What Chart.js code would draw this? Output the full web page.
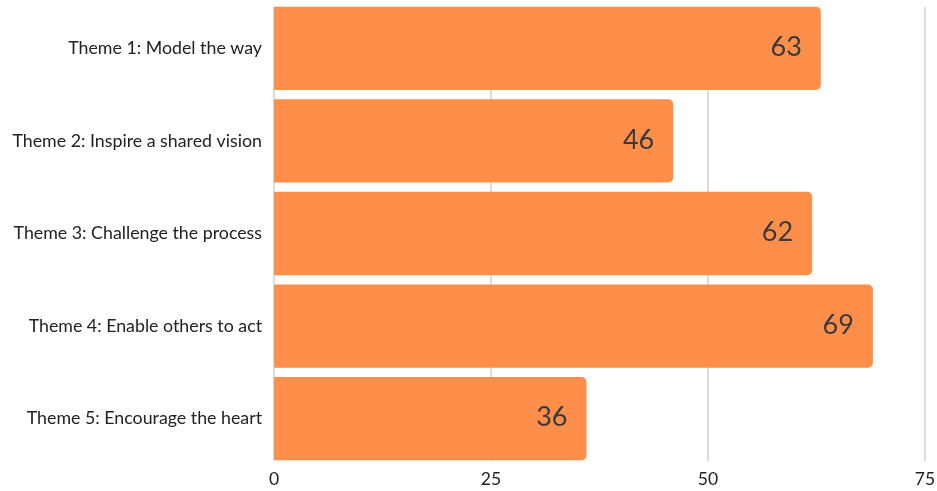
<!DOCTYPE html>
<html>
<head>
<meta charset="utf-8">
<script src="https://cdn.jsdelivr.net/npm/chart.js@4/dist/chart.umd.min.js"></script>
<style>
  html, body { margin: 0; padding: 0; background: #fff; }
  #wrap { width: 937px; height: 491px; }
</style>
</head>
<body>
<div id="wrap"><canvas id="themeChart"></canvas></div>
<script>
const themes = [
    'Theme 1: Model the way',
    'Theme 2: Inspire a shared vision',
    'Theme 3: Challenge the process',
    'Theme 4: Enable others to act',
    'Theme 5: Encourage the heart'
];
const scores = [63, 46, 62, 69, 36];
const xTicks = [0, 25, 50, 75];

// vertical grid lines, a bit shorter than the chart area
const shortGrid = {
    id: 'shortGrid',
    beforeDatasetsDraw(chart) {
        const ctx = chart.ctx;
        const area = chart.chartArea;
        const x = chart.scales.x;
        ctx.save();
        ctx.strokeStyle = '#dcdcdc';
        ctx.lineWidth = 2;
        xTicks.forEach(v => {
            const px = x.getPixelForValue(v);
            ctx.beginPath();
            ctx.moveTo(px, area.top + 5);
            ctx.lineTo(px, area.bottom - 4);
            ctx.stroke();
        });
        ctx.restore();
    }
};

// value inside the end of each bar
const barValues = {
    id: 'barValues',
    afterDatasetsDraw(chart) {
        const ctx = chart.ctx;
        const meta = chart.getDatasetMeta(0);
        ctx.save();
        ctx.font = '27px Lato';
        ctx.fillStyle = '#3a3a3a';
        ctx.textAlign = 'right';
        ctx.textBaseline = 'middle';
        meta.data.forEach((bar, i) => {
            ctx.fillText(scores[i], bar.x - 19, bar.y - 1);
        });
        ctx.restore();
    }
};

Chart.defaults.font.family = 'Lato';
Chart.defaults.color = '#222';

new Chart(document.getElementById('themeChart').getContext('2d'), {
    type: 'bar',
    data: {
        labels: themes,
        datasets: [{
            data: scores,
            backgroundColor: '#fe8f4b',
            borderWidth: 0,
            borderRadius: 5,
            borderSkipped: 'start',
            categoryPercentage: 0.9,
            barPercentage: 1
        }]
    },
    options: {
        indexAxis: 'y',
        responsive: true,
        maintainAspectRatio: false,
        animation: false,
        layout: { padding: { left: 0, right: 12, top: 2, bottom: 0 } },
        plugins: { legend: { display: false }, tooltip: { enabled: false } },
        scales: {
            x: {
                min: 0,
                max: 75,
                afterBuildTicks: axis => { axis.ticks = xTicks.map(v => ({ value: v })); },
                afterFit: axis => {
                    axis.height = 26;
                    axis.paddingLeft = 0;
                    axis.paddingRight = 0;
                },
                grid: { display: false, drawTicks: false },
                border: { display: false },
                ticks: { font: { size: 17.5 }, padding: 4 }
            },
            y: {
                afterFit: axis => {
                    axis.width = 274;
                    axis.paddingTop = 0;
                    axis.paddingBottom = 0;
                },
                grid: { display: false, drawTicks: false },
                border: { display: false },
                ticks: { font: { size: 17.8 }, padding: 12 }
            }
        }
    },
    plugins: [shortGrid, barValues]
});
</script>
</body>
</html>
